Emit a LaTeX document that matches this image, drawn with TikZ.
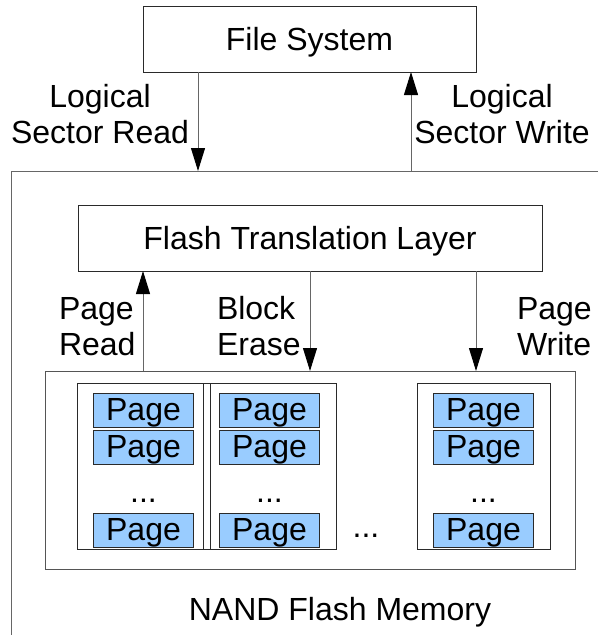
\documentclass[tikz,border=0pt]{standalone}
\usepackage{fontspec}
\setmainfont{Liberation Sans}
\usetikzlibrary{arrows.meta}
\definecolor{pagefill}{HTML}{99CCFF}
\definecolor{wire}{HTML}{666666}
\definecolor{edge}{HTML}{2A2A2A}
\definecolor{frame}{HTML}{555555}
\begin{document}
\begin{tikzpicture}[x=1pt,y=-1pt,
  every node/.style={inner sep=0pt,outer sep=0pt},
  font=\fontsize{32}{36}\selectfont,
  box/.style={draw=edge,line width=1pt,anchor=north west,text height=23pt,text depth=0pt},
  blockbox/.style={draw=edge,line width=1pt,anchor=north west,minimum width=133pt,minimum height=166pt},
  pagebox/.style={draw=edge,line width=1pt,fill=pagefill,anchor=north,minimum width=100pt,minimum height=34pt,text height=23pt,text depth=3pt},
  arr/.style={draw=wire,line width=1pt,-{Triangle[length=23pt,width=14pt,color=black]}},
  lbl/.style={anchor=base,align=center},
  lbll/.style={anchor=base west,align=left}]
\useasboundingbox (0,0) rectangle (598,635);

% storage device outline (open to the right and bottom)
\coordinate (devtop) at (11,171);
\draw[draw=wire,line width=1pt] (598,171) -- (devtop) -- (11,635);

% layers
\node[box,minimum width=333pt,minimum height=66pt] (fs) at (143,6) {File System};
\node[box,minimum width=464pt,minimum height=66pt] (ftl) at (78,205) {Flash Translation Layer};
\node[draw=frame,line width=1pt,anchor=north west,minimum width=530pt,minimum height=198pt] (nand) at (45,371) {};

% erase blocks
\node[blockbox] (b1) at (77,383) {};
\node[blockbox] (b2) at (203,383) {};
\node[blockbox] (b3) at (417,383) {};

% pages inside each block
\foreach \b in {b1,b2,b3}{
  \node[pagebox] (\b p1) at ([yshift=-10pt]\b.north) {Page};
  \node[pagebox] (\b p2) at ([yshift=-47pt]\b.north) {Page};
  \node[pagebox] (\b pn) at ([yshift=-130pt]\b.north) {Page};
  \node[anchor=base] (\b dots) at ([yshift=-119pt]\b.north) {...};
}
\node[anchor=base] (bdots) at (366,537) {...};

% connector x positions
\coordinate (rd) at (198,0);
\coordinate (wr) at (411,0);
\coordinate (pr) at (143,0);
\coordinate (be) at (310,0);
\coordinate (pw) at (476,0);

\draw[arr] (fs.south -| rd) -- (devtop -| rd);
\draw[arr] (devtop -| wr) -- (fs.south -| wr);
\draw[arr] (nand.north -| pr) -- (ftl.south -| pr);
\draw[arr] (ftl.south -| be) -- (nand.north -| be);
\draw[arr] (ftl.south -| pw) -- (nand.north -| pw);

% labels (base anchor sits on the last line)
\node[lbl] (lread) at (100,143) {Logical\\Sector Read};
\node[lbl] (lwrite) at (502,143) {Logical\\Sector Write};
\node[lbll] (lpr) at (59,355) {Page\\Read};
\node[lbll] (lbe) at (217,355) {Block\\Erase};
\node[lbll] (lpw) at (517,355) {Page\\Write};
\node[anchor=base] (lnand) at (340,620) {NAND Flash Memory};
\end{tikzpicture}
\end{document}
